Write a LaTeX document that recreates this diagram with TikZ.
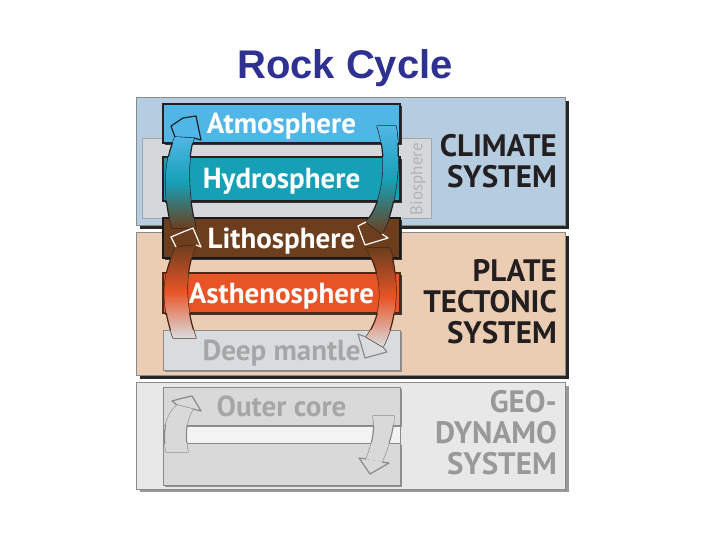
\documentclass[tikz,border=0pt]{standalone}
\usepackage{fontspec}
\setmainfont{PT Sans}
\newfontfamily\titlefont{Liberation Sans}
\usepackage{tikz}
\usetikzlibrary{shadows}
\definecolor{titleC}{HTML}{2E3192}
\definecolor{climC}{HTML}{B6CDE1}
\definecolor{plateC}{HTML}{EBCDB4}
\definecolor{geoC}{HTML}{E8E8E8}
\definecolor{bioC}{HTML}{D5D8DB}
\definecolor{atmoC}{HTML}{50B6E6}
\definecolor{hydroC}{HTML}{16A0B6}
\definecolor{lithoC}{HTML}{6C3E1E}
\definecolor{asthC}{HTML}{E95426}
\definecolor{deepC}{HTML}{D9DCDF}
\definecolor{coreC}{HTML}{D9D9D9}
\definecolor{inkC}{HTML}{231F20}
\definecolor{rimC}{HTML}{8A8A8A}

\begin{document}
\begin{tikzpicture}[x=1pt, y=-1pt,
    panel/.style={draw=rimC, line width=0.8pt, fill=#1},
    layer/.style={minimum width=237pt, minimum height=#1, inner sep=0pt,
                  text height=20pt, text depth=0pt,
                  font=\fontsize{29}{29}\selectfont\bfseries, text=white,
                  line width=1.5pt, draw=inkC,
                  drop shadow={shadow xshift=2pt, shadow yshift=-2pt,
                               fill=black!85, opacity=0.9}},
    pale/.style={draw=rimC, line width=1pt, text=black!35,
                 drop shadow={shadow xshift=2pt, shadow yshift=-2pt,
                              fill=black!35, opacity=0.8}},
    syslab/.style={anchor=east, align=right, inner sep=0pt, text=inkC,
                   font=\fontsize{31}{31}\selectfont\bfseries},
    climshade/.style={top color=atmoC, bottom color=lithoC, middle color=hydroC},
    plateshade/.style={top color=lithoC, bottom color=deepC, middle color=asthC},
    rim/.style={draw=#1, line width=1.2pt, line join=round},
  ]
  \useasboundingbox (0,0) rectangle (720,540);

  \node[font=\fontsize{40}{40}\titlefont\bfseries, text=titleC] (title) at (345,68) {Rock Cycle};

  % --- three system panels, with their shadows ----------------------------
  \fill[black!85] (140,101) rectangle (569,229);
  \fill[black!85] (140,236) rectangle (569,379);
  \fill[black!40] (140,386) rectangle (569,492);
  \filldraw[panel=climC]  (136,97)  rectangle (565,225);
  \filldraw[panel=plateC] (136,232) rectangle (565,375);
  \filldraw[panel=geoC]   (136,382) rectangle (565,489);

  \filldraw[fill=bioC, draw=black!35, line width=1pt] (142,139) rectangle (431,219);
  \node[rotate=90, font=\fontsize{17}{17}\selectfont, text=black!30] (bio) at (418,179) {Biosphere};
  \filldraw[fill=white!50!geoC, draw=rimC] (163,425) rectangle (400,443);

  % --- layers ----------------------------------------------------------
  \node[layer=39pt, fill=atmoC]  (atmo)   at (281.5,123.5) {Atmosphere};
  \node[layer=44pt, fill=hydroC] (hydro)  at (281.5,179)   {Hydrosphere};
  \node[layer=40pt, fill=lithoC, draw=black!90] (litho) at (281.5,238) {Lithosphere};
  \node[layer=40pt, fill=asthC, draw=lithoC!70!black, line width=2.2pt] (asth) at (281.5,293) {Asthenosphere};
  \node[layer=40pt, pale, fill=deepC] (deep) at (281.5,350) {Deep mantle};
  \node[layer=38pt, pale, fill=coreC] (core) at (281.5,406) {Outer core};
  \node[layer=42pt, pale, fill=coreC] (corebase) at (281.5,464) {};

  % --- cycle arrows: shafts ------------------------------------------------
  \def\shaftCL{(172,228) .. controls (162,195) and (164,160) .. (175,137) -- (194,138)
      .. controls (187,160) and (188,195) .. (196,228) -- cycle}
  \def\shaftCR{(377,126) .. controls (388,160) and (384,200) .. (366,222) -- (382,234)
      .. controls (396,210) and (402,160) .. (396,126) -- cycle}
  \def\shaftPL{(173,338) .. controls (160,300) and (162,275) .. (176,247) -- (196,245)
      .. controls (184,275) and (185,305) .. (196,338) -- cycle}
  \def\shaftPR{(366,248) .. controls (382,275) and (386,310) .. (366,337) -- (383,347)
      .. controls (400,315) and (398,275) .. (390,248) -- cycle}
  \def\shaftGL{(166,452) .. controls (162,430) and (166,415) .. (177,405) -- (193,409)
      .. controls (186,420) and (185,435) .. (188,452) -- cycle}
  \def\shaftGR{(373,416) .. controls (375,430) and (372,445) .. (366,459) -- (382,462)
      .. controls (389,445) and (394,430) .. (394,416) -- cycle}
  \shade[climshade, rim=inkC] \shaftCL;
  \shade[climshade, rim=inkC] \shaftCR;
  \shade[plateshade, rim=lithoC!60!black] \shaftPL;
  \shade[plateshade, rim=lithoC!60!black] \shaftPR;
  \filldraw[fill=coreC, rim=rimC] \shaftGL;
  \filldraw[fill=coreC, rim=rimC] \shaftGR;
  \begin{scope}
    \clip (163,104) rectangle (400,143) (163,157) rectangle (400,201)
          (163,218) rectangle (400,258) (163,273) rectangle (400,313)
          (163,330) rectangle (400,370) (163,387) rectangle (400,425)
          (163,443) rectangle (400,485);
    \shade[climshade] \shaftCL;  \shade[climshade] \shaftCR;
    \shade[plateshade] \shaftPL; \shade[plateshade] \shaftPR;
    \fill[coreC] \shaftGL;       \fill[coreC] \shaftGR;
  \end{scope}

  % --- arrow heads -------------------------------------------------------
  \fill[atmoC]  (171,126) -- (183,118) -- (196,116) -- (201,140) -- cycle;
  \draw[rim=inkC] (175,137) -- (171,126) -- (183,118) -- (196,116) -- (201,140) -- (194,138);
  \fill[lithoC] (358,226) -- (365,245) -- (388,238) -- cycle;
  \draw[rim=white] (366,222) -- (358,226) -- (365,245) -- (388,238) -- (382,234);
  \fill[lithoC] (171,237) -- (183,232) -- (193,228) -- (201,247) -- cycle;
  \draw[rim=white] (176,247) -- (171,237) -- (183,232) -- (193,228) -- (201,247) -- (196,245);
  \fill[deepC]  (358,334) -- (365,358) -- (387,352) -- cycle;
  \draw[rim=rimC] (366,337) -- (358,334) -- (365,358) -- (387,352) -- (383,347);
  \fill[coreC]  (172,401) -- (183,398) -- (192,396) -- (201,411) -- cycle;
  \draw[rim=rimC] (177,405) -- (172,401) -- (183,398) -- (192,396) -- (201,411) -- (193,409);
  \fill[coreC]  (359,458) -- (370,474) -- (389,463) -- cycle;
  \draw[rim=rimC] (366,459) -- (359,458) -- (370,474) -- (389,463) -- (382,462);

  % --- system labels ------------------------------------------------------
  \node[syslab] (climlab)  at (557,161.5) {CLIMATE\\SYSTEM};
  \node[syslab] (platelab) at (557,302)   {PLATE\\TECTONIC\\SYSTEM};
  \node[syslab, text=black!40] (geolab) at (557,433) {GEO-\\DYNAMO\\SYSTEM};
\end{tikzpicture}
\end{document}
